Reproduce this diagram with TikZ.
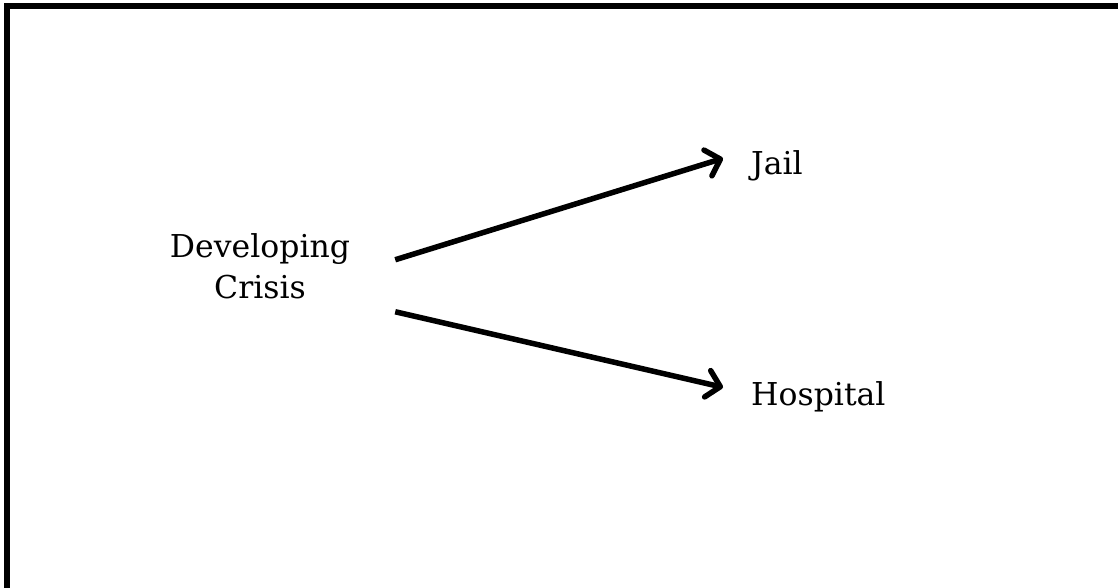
\documentclass[tikz,border=0pt]{standalone}
\usepackage{fontspec}
\setmainfont{DejaVu Serif}
\usepackage{xcolor}
\definecolor{frameDark}{HTML}{000000}
\definecolor{slideBg}{HTML}{FFFFFF}
\usetikzlibrary{positioning,calc,arrows.meta}
\tikzset{%
  slideFrame/.style={%
    draw=frameDark,
    line width=6pt
  },
  labelText/.style={%
    inner sep=0pt,
    font=\fontsize{31.5}{41}\selectfont,
    align=center
  },
  arrowLine/.style={%
    -{Straight Barb[length=13pt,width=27pt,line cap=round,line join=round]},
    line width=5.5pt,
    color=frameDark
  }
}

\begin{document}
\begin{tikzpicture}[x=1pt,y=-1pt]
            \useasboundingbox (0,0) rectangle (1118,588);
            \clip (0,0) rectangle (1118,588);
            \fill[slideBg] (0,0) rectangle (1118,588);
            \draw[slideFrame] (7,6) rectangle (1130,600);

            \node[labelText, anchor=base] (crisis) at (260,298) {Developing\\Crisis};
            \node[labelText, anchor=base west] (jail) at (751,175) {Jail};
            \node[labelText, anchor=base west] (hospital) at (751,405) {Hospital};

            \draw[arrowLine] ($(crisis.east)+(45,-6)$) -- ($(jail.west)+(-28,-8)$);
            \draw[arrowLine] ($(crisis.east)+(45,46)$) -- ($(hospital.west)+(-28,-9)$);
        \end{tikzpicture}
\end{document}
